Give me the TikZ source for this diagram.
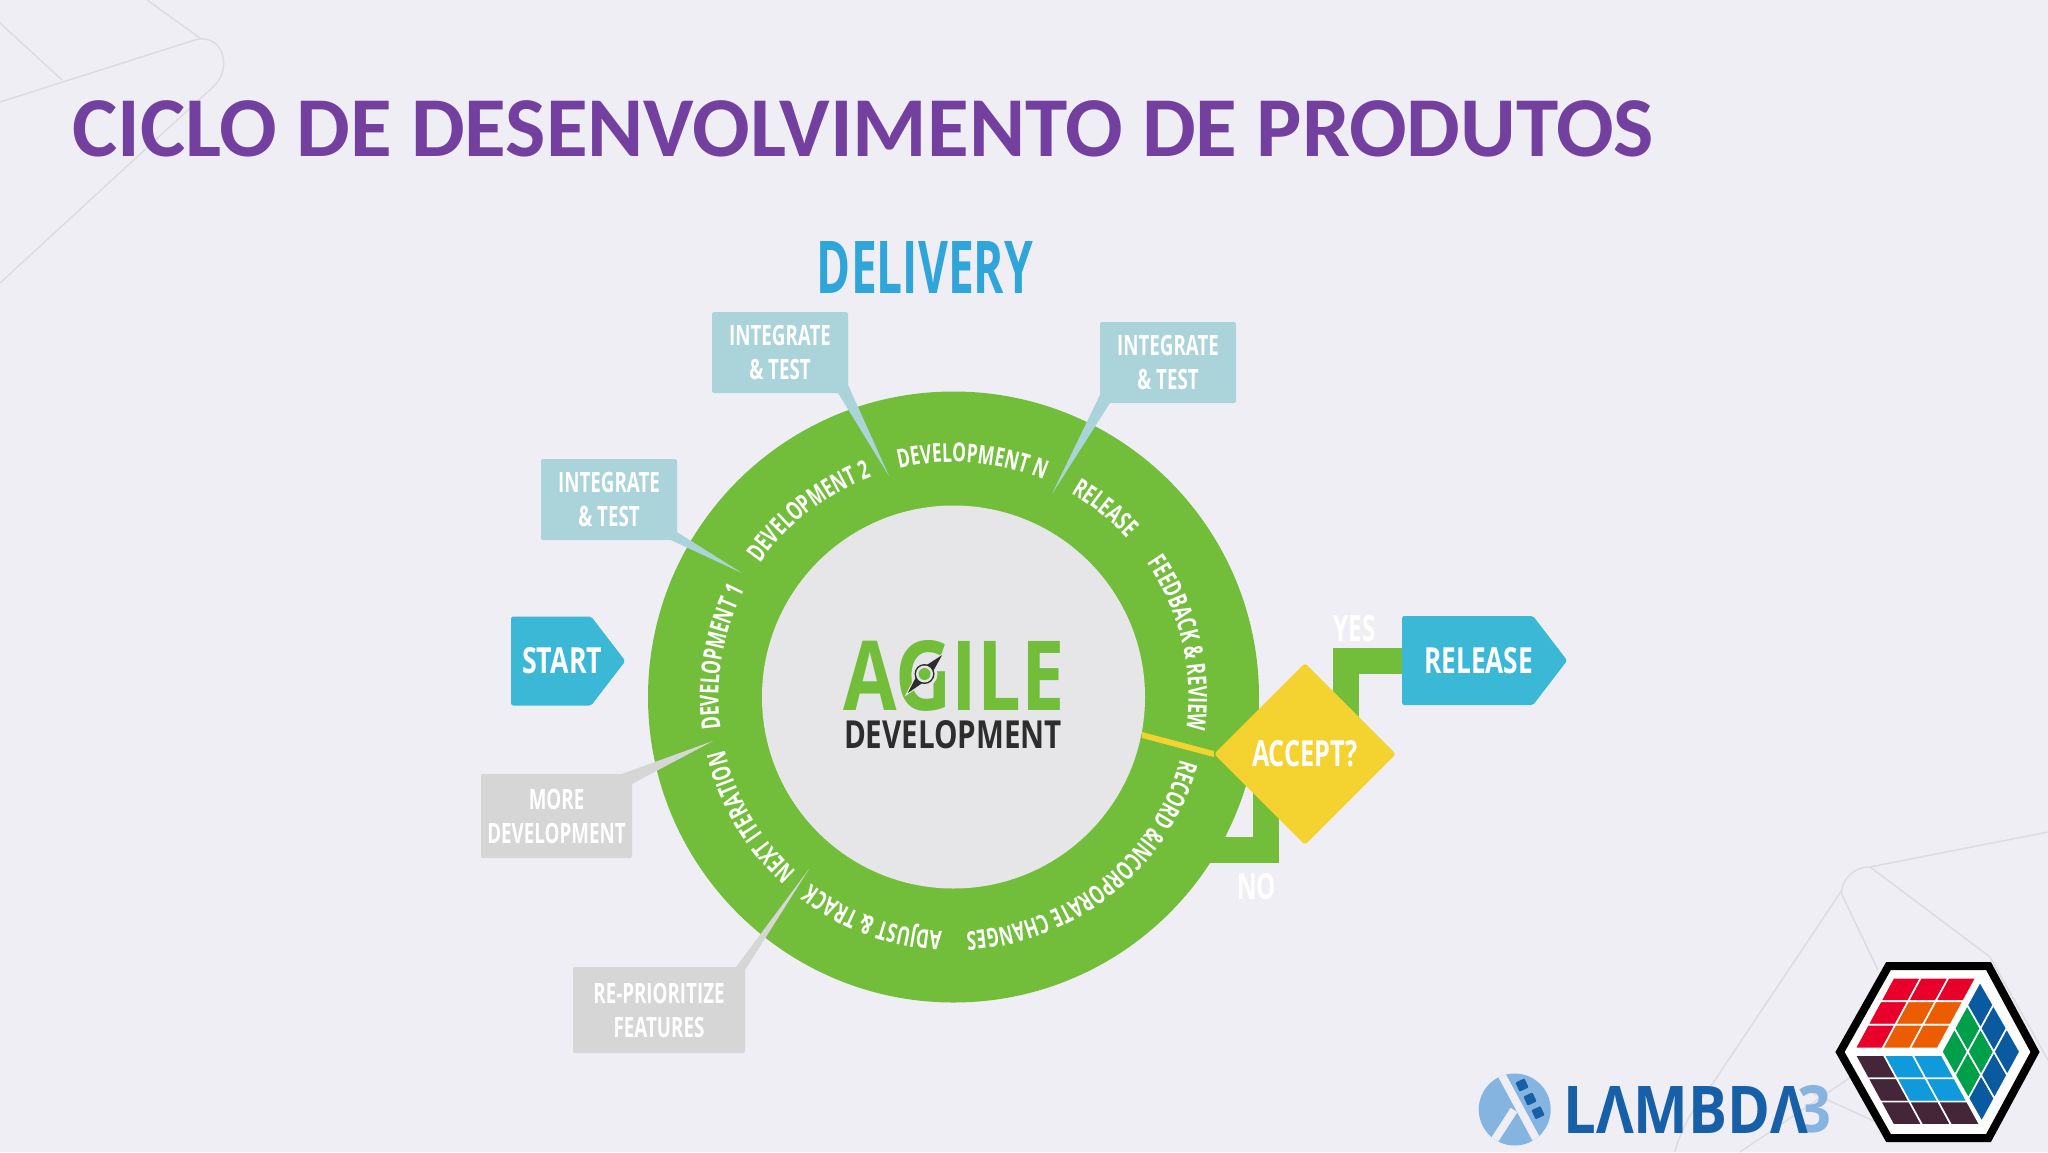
\documentclass[tikz,border=0pt]{standalone}
\usepackage{fontspec}
\usepackage{graphicx}
\usetikzlibrary{calc,shapes.geometric,shapes.symbols,decorations.text}
\setmainfont{Open Sans}
\newfontfamily\titlef{Carlito}
\newfontfamily\condf[FakeStretch=0.67]{Open Sans}
\newfontfamily\condg[FakeStretch=0.655]{Open Sans}
\newcommand{\ringf}{\condf\bfseries\fontsize{26}{30}\selectfont}
\newcommand{\ringg}{\condg\bfseries\fontsize{26}{30}\selectfont}
\newcommand{\boxf}{\condf\bfseries\fontsize{28}{34}\selectfont}
\newcommand{\fitbox}[3]{\resizebox{#1pt}{#2pt}{\bfseries #3}}
\newcommand{\nudged}[1]{\hspace*{11pt}#1\hspace*{-11pt}}
\newcommand{\ghost}[1]{\color{white}\condf\fontsize{36}{40}\selectfont #1}
\definecolor{bgc}{HTML}{F0EEF5}
\definecolor{bgline}{HTML}{DCDBE0}
\definecolor{ringc}{HTML}{72BE3B}
\definecolor{innerc}{HTML}{E6E6E8}
\definecolor{titlec}{HTML}{7440A0}
\definecolor{delc}{HTML}{2FA5D9}
\definecolor{tealbox}{HTML}{ABD3DA}
\definecolor{greybox}{HTML}{D6D6D6}
\definecolor{cyanbox}{HTML}{3BB8D6}
\definecolor{yel}{HTML}{F4D230}
\definecolor{darkt}{HTML}{2D2D2D}
\definecolor{lamb}{HTML}{175FA6}
\definecolor{lamblight}{HTML}{85B4E0}
\definecolor{cr}{HTML}{E8002A}
\definecolor{co}{HTML}{EC5C00}
\definecolor{cm}{HTML}{452538}
\definecolor{cb}{HTML}{0F9ADB}
\definecolor{cg}{HTML}{00A04A}
\definecolor{cd}{HTML}{0A5AA0}
\tikzset{
  bgl/.style={draw=bgline,line width=1.4pt},
  infobox/.style={rectangle,rounded corners=2pt,inner sep=0pt,minimum width=#1,text=white,align=center,font=\boxf},
  tealnote/.style={infobox=136pt,fill=tealbox,minimum height=81pt},
  greynote/.style={infobox=#1,fill=greybox},
  flag/.style={signal,signal to=east,signal pointer angle=105,fill=cyanbox,rounded corners=2pt,inner sep=0pt,minimum width=#1,minimum height=89pt,text=white,anchor=west},
  conn/.style={draw=ringc,line width=26pt,miter limit=10},
  ringlabel/.style={decorate,decoration={text along path,text color=white,text={|\ringf|#1},text align=center}},
  ringlabeltight/.style={decorate,decoration={text along path,text color=white,text={|\ringg|#1},text align=center}},
}
\newcommand{\hexcell}[6]{%
  \filldraw[fill=#6,draw=white,line width=1.6pt]
   ($(#1)+#4/3*(#2)+#5/3*(#3)$) -- ($(#1)+#4/3*(#2)+#5/3*(#3)+1/3*(#2)$)
   -- ($(#1)+#4/3*(#2)+#5/3*(#3)+1/3*(#2)+1/3*(#3)$) -- ($(#1)+#4/3*(#2)+#5/3*(#3)+1/3*(#3)$) -- cycle;}
\begin{document}
\begin{tikzpicture}[x=1pt,y=-1pt]
\useasboundingbox (0,0) rectangle (2048,1152);
\fill[bgc] (0,0) rectangle (2048,1152);
% background lines
\draw[bgl] (0,102) -- (198,39) .. controls (225,36) and (232,70) .. (213,87) -- (0,283);
\draw[bgl] (147,0) -- (200,38);
\draw[bgl] (0,23) -- (62,80);
\draw[bgl] (2048,832) -- (1870,867) .. controls (1855,866) and (1840,880) .. (1842,895) -- (1878,970);
\draw[bgl] (1870,867) -- (1990,957) -- (2048,1060);
\draw[bgl] (1842,890) -- (1713,1083) .. controls (1695,1105) and (1680,1130) .. (1675,1152);
\draw[bgl] (1740,1152) -- (1851,1077);
\draw[bgl] (1812,1093) -- (1905,1135);
% connectors behind the ring
\coordinate (yesfoot) at (1346,725);
\coordinate (nofoot) at (1265.5,780);
\coordinate (noend) at (1200,850);
\node[flag=165pt] (release) at (1402,660.5) {\nudged{\fitbox{109}{26}{RELEASE}}};
\node[flag=112pt] (start) at (511,661) {\nudged{\fitbox{80}{26}{START}}};
\draw[conn] (yesfoot) |- (release.west);
\draw[conn] (nofoot) |- (noend);
% ring
\begin{scope}[shift={(953.5,697)},y=1pt]
\fill[ringc] (0,0) circle[radius=305.5];
\fill[innerc] (0,0) circle[radius=191.5];
\path[ringlabel={DEVELOPMENT 1}] (187.3:235) arc[start angle=187.3,end angle=153.2,radius=235];
\path[ringlabel={DEVELOPMENT 2}] (144.9:235) arc[start angle=144.9,end angle=110.8,radius=235];
\path[ringlabel={DEVELOPMENT N}] (103.4:235) arc[start angle=103.4,end angle=67.4,radius=235];
\path[ringlabel={RELEASE}] (60.5:235) arc[start angle=60.5,end angle=42,radius=235];
\path[ringlabel={FEEDBACK {\&} REVIEW}] (34.8:235) arc[start angle=34.8,end angle=-8,radius=235];
\path[ringlabeltight={RECORD {\&}INCORPORATE CHANGES}] (-10:235) arc[start angle=-10,end angle=-92.2,radius=235];
\path[ringlabel={ADJUST {\&} TRACK}] (-92.6:235) arc[start angle=-92.6,end angle=-127.5,radius=235];
\path[ringlabel={NEXT ITERATION}] (-133.3:235) arc[start angle=-133.3,end angle=-165.6,radius=235];
\end{scope}
% decision
\coordinate (ringedge) at (1142,735);
\node[diamond,aspect=1,fill=yel,rounded corners=3pt,inner sep=0pt,minimum width=182pt,minimum height=182pt,text=white] (accept) at (1305,754) {\fitbox{106}{26}{ACCEPT?}};
\fill[yel] ($(ringedge)+(0,-3)$) -- ($(accept.west)+(0,-3)$) -- ($(accept.west)+(0,3)$) -- ($(ringedge)+(0,3)$) -- cycle;
\node[font=\bfseries,inner sep=0pt] (yes) at (1354.5,628.5) {\ghost{YES}};
\node[font=\bfseries,inner sep=0pt] (no) at (1256.5,886.5) {\ghost{NO}};
% notes
\node[tealnote] (i2) at (780,352.5) {INTEGRATE\\\& TEST};
\node[tealnote] (in) at (1168,362.5) {INTEGRATE\\\& TEST};
\node[tealnote] (i1) at (609,499.5) {INTEGRATE\\\& TEST};
\node[greynote=151pt,minimum height=84pt] (more) at (556.5,816) {MORE\\DEVELOPMENT};
\node[greynote=172pt,minimum height=86pt] (repri) at (659,1010) {RE-PRIORITIZE\\FEATURES};
\coordinate (tip2) at (889,476);
\coordinate (tipn) at (1052,494);
\coordinate (tip1) at (742,573);
\coordinate (tipm) at (713,741);
\coordinate (tipr) at (809,869);
\fill[tealbox] ($(i2.south east)+(-10,0)$) -- ($(i2.south east)+(0,-8)$) -- (tip2) -- cycle;
\fill[tealbox] ($(in.south west)+(0,-8)$) -- ($(in.south west)+(10,0)$) -- (tipn) -- cycle;
\fill[tealbox] ($(i1.south east)+(0,-8)$) -- (tip1) -- ($(i1.south east)+(-6,0)$) -- cycle;
\fill[greybox] ($(more.north east)+(-10,0)$) -- (tipm) -- ($(more.north east)+(0,10)$) -- cycle;
\fill[greybox] ($(repri.north east)+(-9,0)$) -- (tipr) -- ($(repri.north east)+(0,3)$) -- cycle;
% centre logo
\node[inner sep=0pt,text=ringc] (agile) at (954,676) {\fitbox{221}{70}{AGILE}};
\node[inner sep=0pt,text=darkt] (devel) at (953,735) {\fitbox{218}{28}{DEVELOPMENT}};
\coordinate (compass) at (924.5,674);
\fill[innerc] (compass) circle[radius=13];
\filldraw[fill=darkt,draw=innerc,line width=1pt] (944,653) -- ($(compass)+(5,5)$) -- (906,695) -- ($(compass)+(-5,-5)$) -- cycle;
\fill[darkt] (compass) circle[radius=10];
\fill[innerc] (compass) circle[radius=8.5];
\fill[ringc] (compass) circle[radius=6];
% title
\node[inner sep=0pt,anchor=west,text=titlec] (title) at (72,129) {\resizebox{1582pt}{!}{\titlef\bfseries\fontsize{84}{90}\selectfont CICLO DE DESENVOLVIMENTO DE PRODUTOS}};
\node[inner sep=0pt,text=delc] (delivery) at (925,267) {\fitbox{216}{52}{DELIVERY}};
% LAMBDA3 logo
\begin{scope}
\clip (1514.7,1109.5) circle[radius=36];
\fill[lamblight] (1478,1070) rectangle (1552,1150);
\draw[bgc,line width=8pt] (1499,1070) -- (1540,1146);
\draw[bgc,line width=8pt] (1488,1150) -- (1514,1110);
\foreach \px/\py in {1522/1085,1530/1099,1538/1112.7}
  \fill[lamb,rounded corners=1pt,rotate around={25:(\px,\py)}] (\px-5,\py-5) rectangle (\px+5,\py+5);
\end{scope}
\node[inner sep=0pt,text=lamblight] (three) at (1814.5,1109.5) {\fitbox{34}{47}{3}};
\node[inner sep=0pt,text=lamb,anchor=west] (lambda) at (1563,1109.5) {\fitbox{245}{47}{LΛMBDΛ}};
% hexagon
\filldraw[fill=white,draw=black,line width=8pt,line join=miter] (1840,1052) -- (1888.5,966) -- (1988.5,966) -- (2035,1052) -- (1988.5,1138) -- (1888.5,1138) -- cycle;
\coordinate (Ta) at (82.7,0); \coordinate (Tb) at (-38.3,70.6); \coordinate (To) at (1893.3,977.7);
\foreach \pu/\pv/\pc in {0/0/cr,1/0/cr,2/0/cr,0/1/cr,1/1/co,2/1/co,0/2/cr,1/2/co,2/2/co}
  {\hexcell{To}{Ta}{Tb}{\pu}{\pv}{\pc}}
\coordinate (Ba) at (86.7,0); \coordinate (Bb) at (38.3,70); \coordinate (Bo) at (1855,1055);
\foreach \pu/\pv/\pc in {0/0/cm,1/0/cb,2/0/cb,0/1/cm,1/1/cb,2/1/cb,0/2/cm,1/2/cm,2/2/cm}
  {\hexcell{Bo}{Ba}{Bb}{\pu}{\pv}{\pc}}
\coordinate (Ra) at (38.3,-70); \coordinate (Rb) at (40,70); \coordinate (Ro) at (1941.7,1051.7);
\foreach \pu/\pv/\pc in {0/0/cg,1/0/cg,2/0/cd,0/1/cg,1/1/cg,2/1/cd,0/2/cd,1/2/cd,2/2/cd}
  {\hexcell{Ro}{Ra}{Rb}{\pu}{\pv}{\pc}}
\end{tikzpicture}
\end{document}
